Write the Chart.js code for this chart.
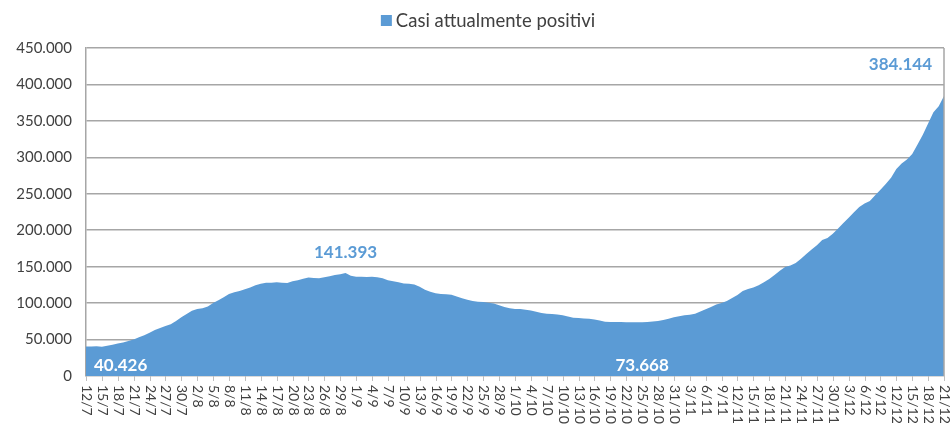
<!DOCTYPE html>
<html>
<head>
<meta charset="utf-8">
<script src="https://cdn.jsdelivr.net/npm/chart.js@4/dist/chart.umd.min.js"></script>
<style>
  html, body { margin: 0; padding: 0; background: #fff; }
  #wrap { width: 951px; height: 427px; }
</style>
</head>
<body>
<div id="wrap"><canvas id="positivi-chart"></canvas></div>
<script>
const seriesName = "Casi attualmente positivi";

// daily categories, 12/7 .. 21/12
const firstDay = "2021-07-12";
const dayCount = 163;

// values (one per day)
const positivi = [
  40426, 40600, 40900, 40300, 41500, 43000, 44500, 46000, 48000, 50200,
  53000, 56000, 59500, 63000, 66000, 68500, 71000, 75500, 80500, 85000,
  89500, 92000, 93000, 95500, 100000, 104000, 108000, 112500, 115000, 116500,
  119000, 121500, 124500, 126500, 127800, 128000, 128500, 128000, 127600, 130000,
  131500, 133500, 135000, 134500, 134200, 135500, 137000, 138500, 139500, 141393,
  137500, 136000, 136000, 135800, 136000, 135500, 134000, 131500, 130000, 128500,
  127000, 126500, 125500, 122500, 118500, 115500, 113500, 112500, 112000, 111500,
  109000, 106500, 104500, 103000, 102000, 101500, 100500, 99500, 97000, 94500,
  93000, 92000, 91800, 91000, 90000, 88000, 86500, 85500, 85000, 84500,
  83500, 81500, 80000, 79500, 79000, 78500, 77500, 76000, 74500, 74200,
  74100, 74000, 73900, 73800, 73700, 73668, 74000, 74800, 75500, 77000,
  78500, 80500, 82000, 83500, 84000, 85500, 88500, 91500, 94500, 98000,
  100000, 103000, 107000, 111000, 116500, 119500, 121500, 124500, 128500, 133000,
  138500, 144500, 149500, 151500, 155000, 161000, 167500, 173500, 179500, 186500,
  189500, 195000, 202500, 210000, 217000, 224500, 232000, 236500, 240000, 248000,
  255500, 263500, 272000, 284000, 291500, 297000, 304500, 317500, 331000, 346500,
  362000, 370000, 384144
];

// days that carry a value label: start, summer peak, autumn low, last day
const labelledDays = ["12/7", "30/8", "25/10", "21/12"];

const yMax = 450000;
const yStep = 50000;
const labelEvery = 3;

const days = [];
for (let i = 0; i < dayCount; i++) {
  const d = new Date(firstDay + "T00:00:00Z");
  d.setUTCDate(d.getUTCDate() + i);
  days.push(d.getUTCDate() + "/" + (d.getUTCMonth() + 1));
}

function fmt(n) {
  return String(Math.round(n)).replace(/\B(?=(\d{3})+(?!\d))/g, ".");
}

const FONT = "Lato, 'Open Sans', sans-serif";
const BLUE = "#5b9bd5";
const TEXT = "#404040";

// legend, rotated day labels, tick marks, frame and the value labels
const decorations = {
  id: "decorations",
  afterDraw(chart) {
    const ctx = chart.ctx;
    const xs = chart.scales.x;
    const ys = chart.scales.y;
    const area = chart.chartArea;

    ctx.save();
    // legend
    ctx.font = "18.5px " + FONT;
    ctx.textBaseline = "middle";
    ctx.textAlign = "left";
    const tw = ctx.measureText(seriesName).width;
    const lx = 488 - (11 + 4 + tw) / 2;
    ctx.fillStyle = BLUE;
    ctx.fillRect(lx, 15, 11, 11);
    ctx.fillStyle = TEXT;
    ctx.fillText(seriesName, lx + 15, 21);

    // right frame
    ctx.strokeStyle = "#a6a6a6";
    ctx.lineWidth = 1.5;
    ctx.beginPath();
    ctx.moveTo(area.right, area.top);
    ctx.lineTo(area.right, area.bottom);
    ctx.stroke();

    // tick marks and labels on x
    ctx.strokeStyle = "#bfbfbf";
    ctx.lineWidth = 1;
    ctx.fillStyle = TEXT;
    ctx.font = "14px " + FONT;
    for (let i = 0; i < days.length; i += labelEvery) {
      const x = Math.round(xs.getPixelForValue(i)) + 0.5;
      ctx.beginPath();
      ctx.moveTo(x, area.bottom);
      ctx.lineTo(x, area.bottom + 5);
      ctx.stroke();
      ctx.save();
      ctx.translate(x, area.bottom + 9);
      ctx.rotate(Math.PI / 2);
      ctx.fillText(days[i], 0, 0);
      ctx.restore();
    }

    // value labels
    const [iFirst, iPeak, iLow, iLast] = labelledDays.map((d) => days.indexOf(d));
    ctx.font = "bold 17px " + FONT;

    ctx.fillStyle = "#ffffff";
    ctx.textAlign = "left";
    ctx.fillText(fmt(positivi[iFirst]), xs.getPixelForValue(iFirst) + 8, area.bottom - 10);
    ctx.textAlign = "center";
    ctx.fillText(fmt(positivi[iLow]), xs.getPixelForValue(iLow), area.bottom - 10);

    ctx.fillStyle = BLUE;
    ctx.fillText(fmt(positivi[iPeak]), xs.getPixelForValue(iPeak), ys.getPixelForValue(positivi[iPeak]) - 20);
    ctx.textAlign = "right";
    ctx.fillText(fmt(positivi[iLast]), xs.getPixelForValue(iLast) - 12, ys.getPixelForValue(yMax) + 17);
    ctx.restore();
  }
};

new Chart("positivi-chart", {
  type: "line",
  data: {
    labels: days,
    datasets: [
      {
        label: seriesName,
        data: positivi,
        fill: "origin",
        backgroundColor: BLUE,
        borderColor: BLUE,
        borderWidth: 0,
        pointRadius: 0,
        tension: 0,
      },
    ],
  },
  options: {
    responsive: true,
    maintainAspectRatio: false,
    animation: false,
    layout: {
      padding: { left: 0, right: 7, top: 48, bottom: 0 },
    },
    plugins: {
      legend: { display: false },
      tooltip: { enabled: false },
    },
    scales: {
      x: {
        offset: false,
        grid: { display: false },
        border: { display: true, color: "#d9d9d9", width: 1 },
        ticks: { display: false },
        afterFit(scale) {
          scale.height = 51;
        },
      },
      y: {
        min: 0,
        max: yMax,
        ticks: {
          stepSize: yStep,
          padding: 14,
          color: TEXT,
          font: { family: FONT, size: 15 },
          callback: (v) => fmt(v),
        },
        grid: { color: "#a6a6a6", lineWidth: 1.5, drawTicks: false },
        border: { display: true, color: "#a6a6a6", width: 1.5 },
        afterFit(scale) {
          scale.width = 86;
        },
      },
    },
  },
  plugins: [decorations],
});
</script>
</body>
</html>
